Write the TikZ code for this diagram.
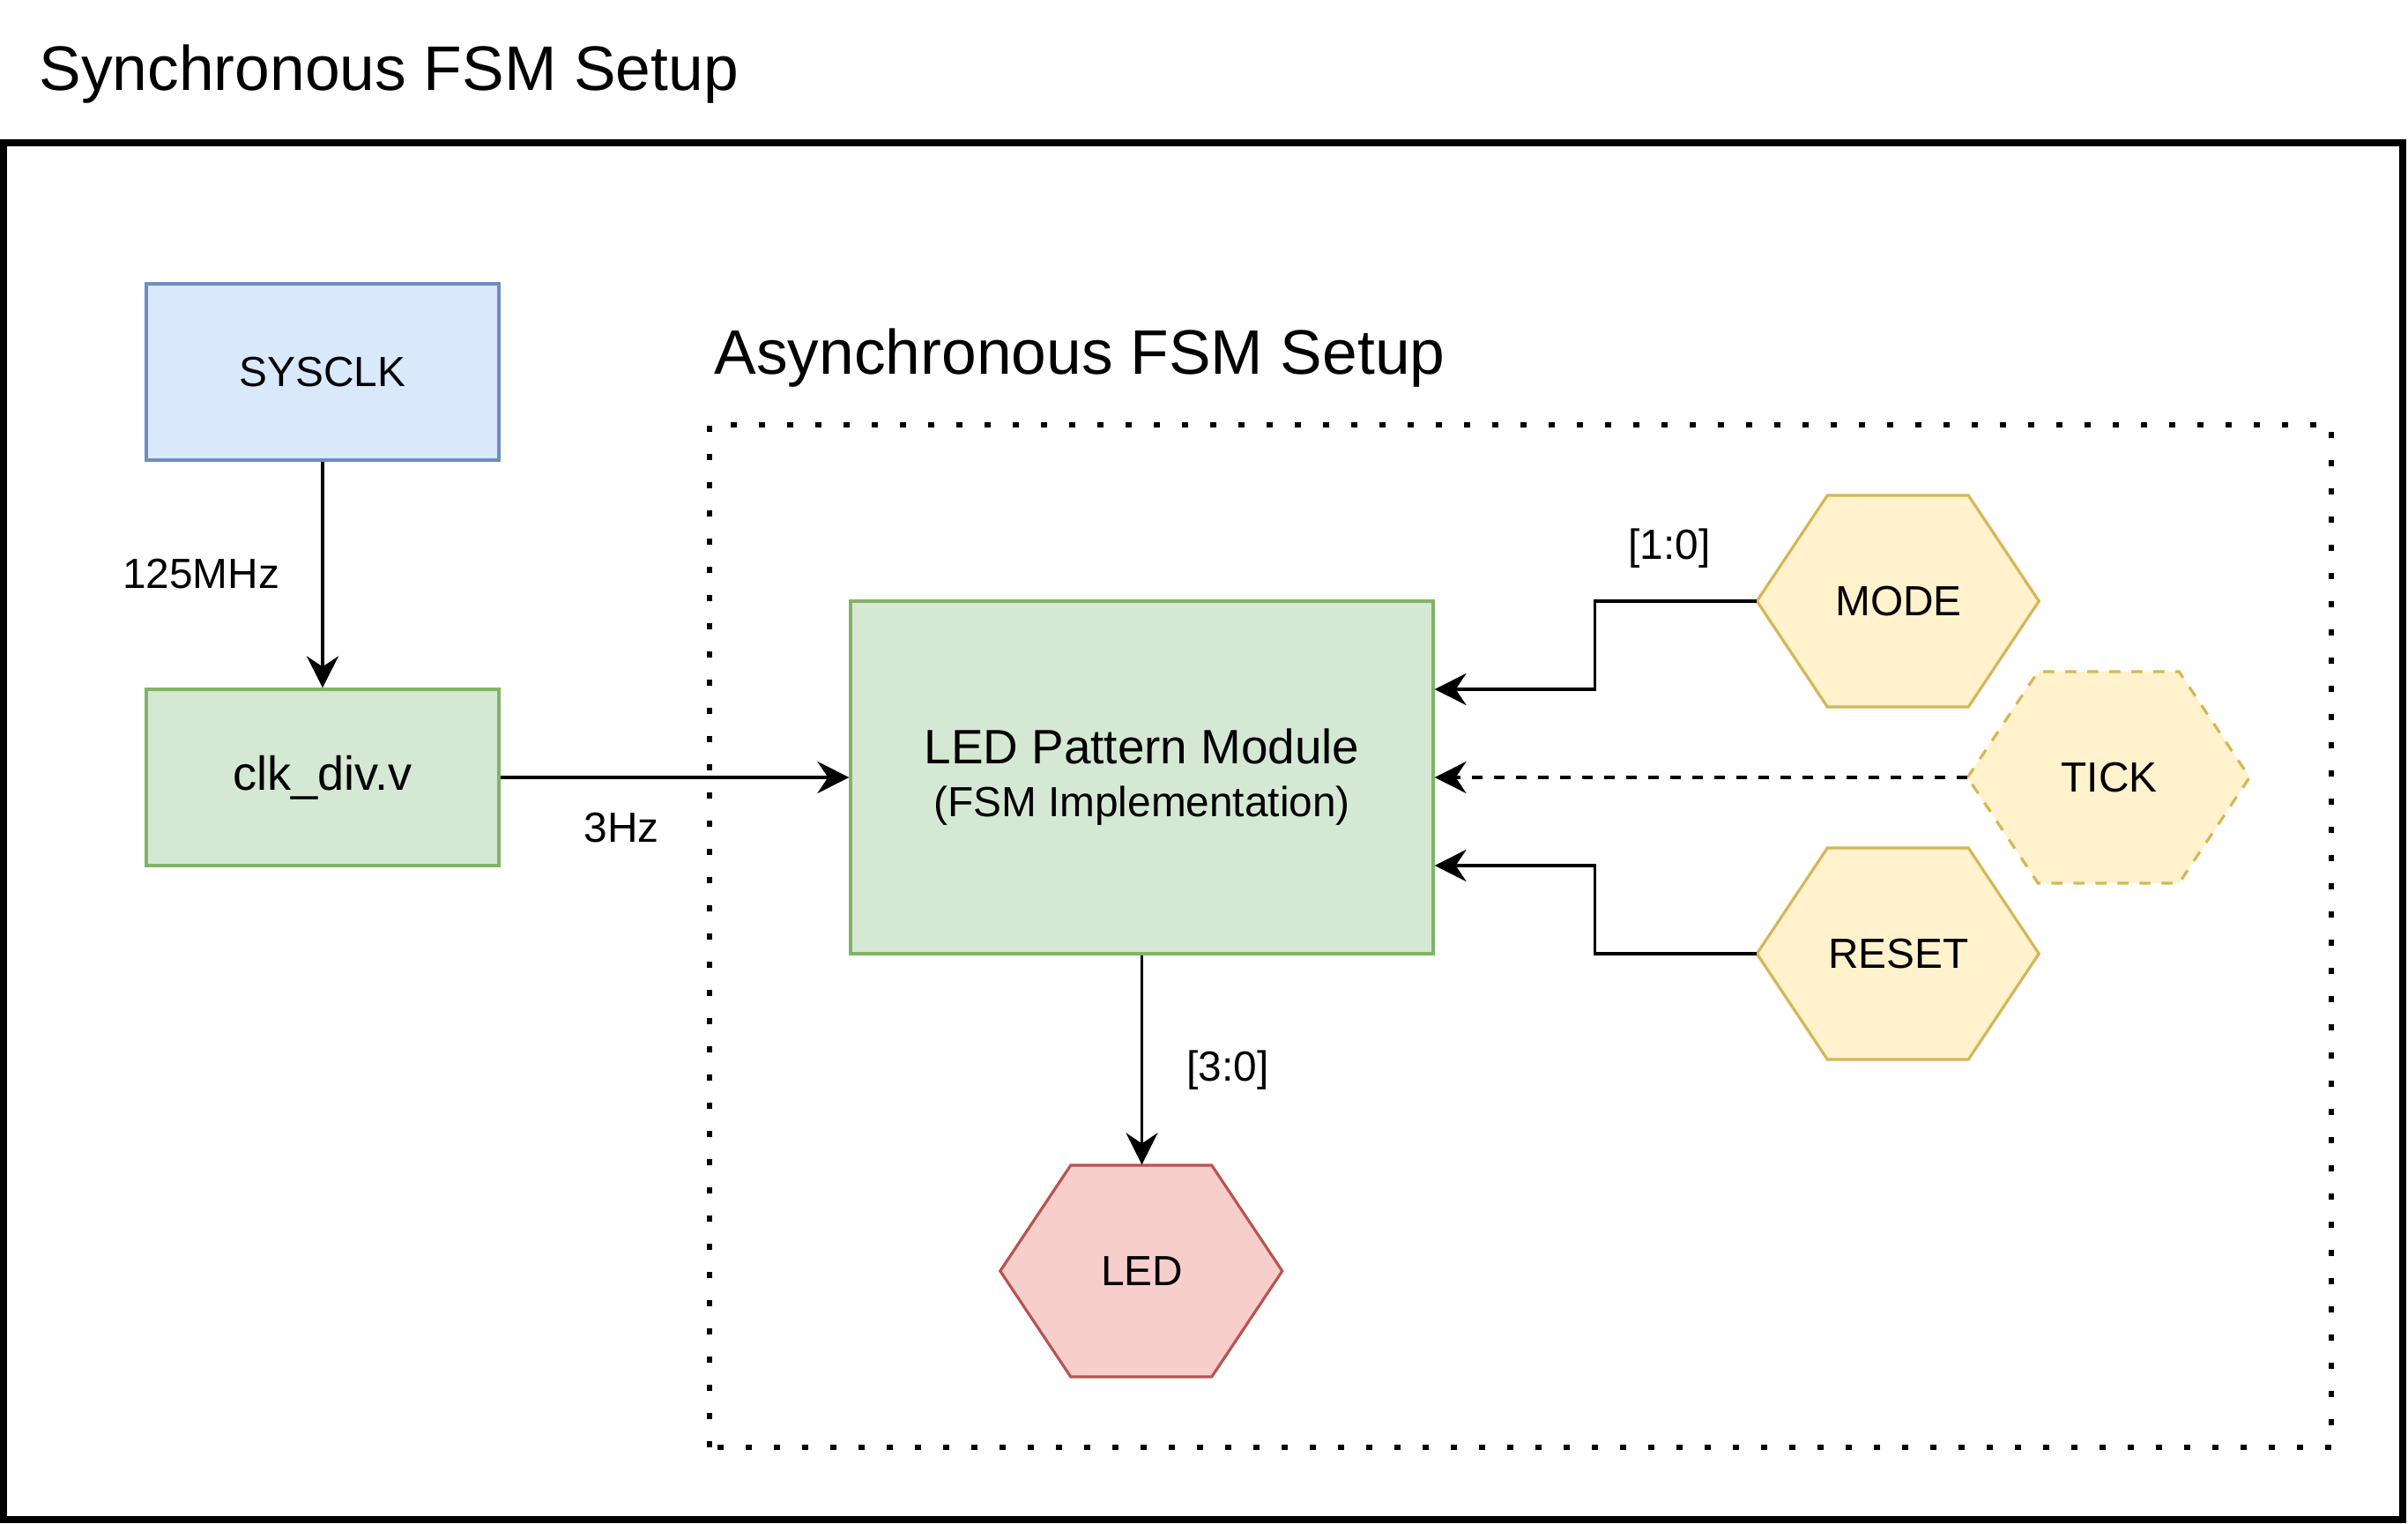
\documentclass[tikz,border=0pt]{standalone}
\usepackage{fontspec}
\setmainfont{Liberation Sans}
\usetikzlibrary{arrows.meta,backgrounds}

\definecolor{blueFill}{HTML}{DAE8FC}
\definecolor{blueLine}{HTML}{6C8EBF}
\definecolor{greenFill}{HTML}{D5E8D4}
\definecolor{greenLine}{HTML}{82B366}
\definecolor{yelFill}{HTML}{FFF2CC}
\definecolor{yelLine}{HTML}{D6B656}
\definecolor{redFill}{HTML}{F8CECC}
\definecolor{redLine}{HTML}{B85450}

\begin{document}
\begin{tikzpicture}[
    lbl/.style={font=\fontsize{13.6}{16}\selectfont},
    bigtitle/.style={font=\fontsize{20.3}{24}\selectfont, inner sep=0pt, anchor=base west},
    box/.style={draw, line width=0.9pt, inner sep=0pt, minimum width=4cm, minimum height=2cm},
    hexnode/.style={lbl, inner sep=0pt, minimum width=3.2cm, minimum height=2.4cm},
    hexyellow/.style={fill=yelFill, draw=yelLine, line width=0.9pt},
    hexdashed/.style={hexyellow, dash pattern=on 0.125cm off 0.125cm},
    hexred/.style={fill=redFill, draw=redLine, line width=0.9pt},
    link/.style={line width=1pt, -{Stealth[length=0.36cm,width=0.36cm,inset=0.12cm]}},
    wirelabel/.style={lbl, inner sep=0pt, anchor=base}
]
\useasboundingbox (0,0) rectangle (27.32,17.28);

% frames and titles
\node[bigtitle] (synctitle) at (0.44,16.25) {Synchronous FSM Setup};
\draw[line width=2.1pt] (0.04,0.04) rectangle (27.26,15.66);
\node[bigtitle] (asynctitle) at (8.10,13.03) {Asynchronous FSM Setup};
\draw[line width=1.85pt, dash pattern=on 0.065cm off 0.255cm] (8.05,0.86) rectangle (26.45,12.46);

% blocks
\node[box, lbl, fill=blueFill, draw=blueLine] (sysclk) at (3.66,13.06) {SYSCLK};
\node[box, fill=greenFill, draw=greenLine, font=\fontsize{15.4}{18}\selectfont] (clkdiv) at (3.66,8.46) {clk\_div.v};
\node[box, fill=greenFill, draw=greenLine, minimum width=6.61cm, minimum height=4cm, align=center, font=\fontsize{13.6}{17.1}\selectfont] (fsm) at (12.955,8.46)
    {{\fontsize{15.6}{17.1}\selectfont LED Pattern Module}\\(FSM Implementation)};

% inputs and output
\node[hexnode] (mode) at (21.54,10.46) {MODE};
\node[hexnode] (tick) at (23.93,8.46) {TICK};
\node[hexnode] (reset) at (21.54,6.46) {RESET};
\node[hexnode] (led) at (12.955,2.86) {LED};
\begin{scope}[on background layer]
    \foreach \hx/\hs in {mode/hexyellow, reset/hexyellow, tick/hexdashed, led/hexred}
        \filldraw[\hs] (\hx.west) -- ++(0.8,1.2) -- ++(1.6,0) -- ++(0.8,-1.2) -- ++(-0.8,-1.2) -- ++(-1.6,0) -- cycle;
\end{scope}

% wires
\draw[link] (sysclk) -- (clkdiv);
\node[wirelabel] (lblsys) at (2.28,10.60) {125MHz};
\draw[link] (clkdiv) -- (fsm);
\node[wirelabel] (lblclk) at (7.05,7.72) {3Hz};
\draw[link] (mode.west) -- ++(-1.84,0) |- ([yshift=1cm]fsm.east);
\node[wirelabel] (lblmode) at (18.94,10.93) {[1:0]};
\draw[link, dash pattern=on 0.125cm off 0.125cm] (tick.west) -- (fsm.east);
\draw[link] (reset.west) -- ++(-1.84,0) |- ([yshift=-1cm]fsm.east);
\draw[link] (fsm) -- (led);
\node[wirelabel] (lblled) at (13.93,5.01) {[3:0]};
\end{tikzpicture}
\end{document}
